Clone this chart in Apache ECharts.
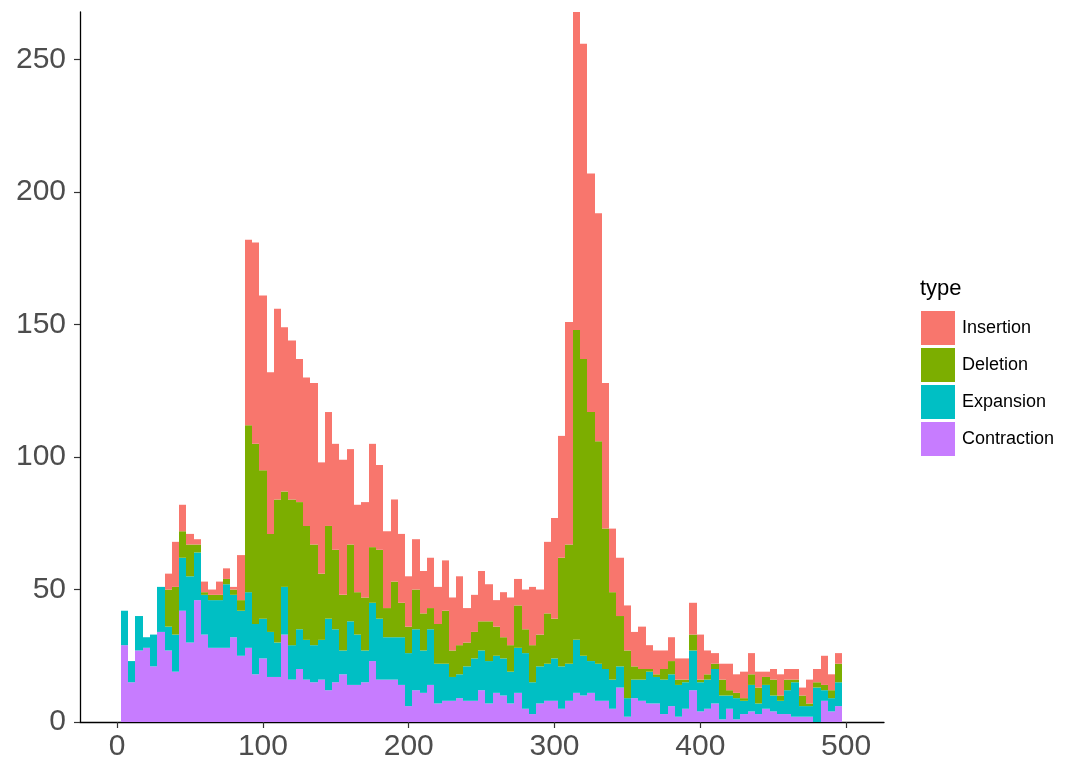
<!DOCTYPE html>
<html>
<head>
<meta charset="utf-8">
<script src="https://cdn.jsdelivr.net/npm/echarts@6/dist/echarts.min.js"></script>
<style>
  html, body { margin: 0; padding: 0; background: #fff; }
  #chart { width: 1080px; height: 771px; }
</style>
</head>
<body>
<div id="chart"></div>
<script>
// bin centres (binwidth 5)
const binWidth = 5
const binCenters = [
  5, 10, 15, 20, 25, 30, 35, 40, 45, 50, 55, 60, 65, 70, 75, 80, 85, 90, 95, 100,
  105, 110, 115, 120, 125, 130, 135, 140, 145, 150, 155, 160, 165, 170, 175, 180, 185, 190, 195, 200,
  205, 210, 215, 220, 225, 230, 235, 240, 245, 250, 255, 260, 265, 270, 275, 280, 285, 290, 295, 300,
  305, 310, 315, 320, 325, 330, 335, 340, 345, 350, 355, 360, 365, 370, 375, 380, 385, 390, 395, 400,
  405, 410, 415, 420, 425, 430, 435, 440, 445, 450, 455, 460, 465, 470, 475, 480, 485, 490, 495
]

// counts per bin, one array per type
const contraction = [
  29, 15, 27, 28, 21, 34, 27, 19, 42, 30, 46, 33, 28, 28, 28, 32, 25, 28, 18, 24,
  17, 17, 33, 16, 20, 16, 15, 16, 12, 15, 18, 14, 14, 15, 23, 16, 16, 16, 14, 6,
  12, 11, 14, 7, 8, 8, 9, 8, 8, 12, 7, 11, 10, 7, 11, 5, 3, 7, 8, 8,
  5, 8, 11, 10, 11, 8, 8, 5, 13, 2, 9, 8, 7, 7, 3, 6, 2, 5, 12, 4,
  5, 7, 1, 5, 1, 3, 4, 3, 5, 4, 3, 3, 2, 2, 2, 0, 8, 4, 6
]
const expansion = [
  13, 8, 13, 4, 12, 17, 9, 14, 20, 25, 18, 15, 18, 18, 24, 16, 17, 21, 19, 15,
  17, 13, 18, 13, 15, 15, 14, 15, 27, 20, 9, 24, 19, 12, 22, 23, 16, 16, 18, 20,
  23, 16, 21, 15, 14, 9, 9, 13, 16, 15, 16, 14, 14, 12, 17, 21, 12, 14, 14, 16,
  16, 14, 20, 15, 12, 14, 12, 11, 8, 7, 7, 8, 12, 10, 13, 12, 12, 10, 15, 11,
  11, 13, 9, 5, 8, 5, 10, 4, 9, 6, 5, 9, 13, 4, 4, 13, 4, 5, 9
]
const deletion = [
  0, 0, 0, 0, 0, 0, 14, 18, 10, 12, 3, 1, 2, 2, 2, 2, 4, 63, 68, 56,
  37, 54, 36, 55, 48, 43, 38, 25, 35, 30, 21, 29, 16, 20, 21, 26, 11, 21, 13, 10,
  15, 14, 8, 15, 20, 10, 11, 9, 10, 11, 15, 11, 8, 10, 16, 9, 14, 12, 19, 15,
  41, 45, 117, 112, 94, 84, 53, 33, 19, 18, 5, 4, 1, 1, 4, 5, 2, 1, 6, 1,
  2, 2, 6, 2, 2, 1, 4, 6, 3, 6, 2, 4, 1, 4, 1, 2, 2, 3, 7
]
const insertion = [
  0, 0, 0, 0, 0, 0, 6, 17, 10, 4, 2, 4, 2, 5, 4, 1, 17, 70, 76, 66,
  61, 72, 62, 60, 54, 56, 61, 42, 43, 40, 51, 36, 33, 36, 39, 32, 29, 31, 26, 19,
  19, 16, 19, 14, 19, 20, 26, 13, 14, 19, 14, 10, 17, 18, 10, 15, 22, 17, 27, 38,
  46, 84, 120, 119, 90, 86, 55, 24, 22, 17, 13, 16, 9, 9, 7, 9, 8, 8, 12, 17,
  9, 4, 6, 10, 7, 10, 8, 6, 2, 4, 8, 4, 4, 3, 9, 5, 11, 6, 4
]

const xTicks = [0, 100, 200, 300, 400, 500]
const yTicks = [0, 50, 100, 150, 200, 250]

const typeNames = ['Insertion', 'Deletion', 'Expansion', 'Contraction']
const typeColors = {
  Insertion: '#F8766D',
  Deletion: '#7CAE00',
  Expansion: '#00BFC4',
  Contraction: '#C77CFF'
}

const chart = echarts.init(document.getElementById('chart'), null, { renderer: 'canvas' })

// stack from the bottom: contraction, expansion, deletion, insertion
const stackOrder = [
  ['Contraction', contraction],
  ['Expansion', expansion],
  ['Deletion', deletion],
  ['Insertion', insertion]
]

// bin edges snapped to whole pixels so neighbouring bins meet without seams
function renderBin(params, api) {
  const x = api.value(0)
  const lo = api.value(1)
  const hi = api.value(2)
  if (hi <= lo) return null
  const left = Math.round(api.coord([x - binWidth / 2, hi])[0])
  const right = Math.round(api.coord([x + binWidth / 2, hi])[0])
  const top = api.coord([x, hi])[1]
  const bottom = api.coord([x, lo])[1]
  return {
    type: 'rect',
    shape: { x: left, y: top, width: right - left, height: bottom - top },
    style: { fill: api.visual('color') }
  }
}

const base = binCenters.map(() => 0)
const series = stackOrder.map(([name, values]) => {
  const data = binCenters.map((x, i) => {
    const lo = base[i]
    base[i] += values[i]
    return [x, lo, base[i]]
  })
  return {
    name: name,
    type: 'custom',
    renderItem: renderBin,
    encode: { x: 0, y: [1, 2] },
    data: data,
    itemStyle: { color: typeColors[name] },
    emphasis: { disabled: true }
  }
})

const axisFont = {
  fontFamily: 'Liberation Sans, Arial, sans-serif',
  fontSize: 30,
  color: '#4D4D4D'
}

chart.setOption({
  animation: false,
  backgroundColor: '#ffffff',
  title: {
    text: 'type',
    left: 920,
    top: 278,
    padding: 0,
    textStyle: {
      fontFamily: 'Liberation Sans, Arial, sans-serif',
      fontSize: 22,
      fontWeight: 'normal',
      color: '#000'
    }
  },
  legend: {
    data: typeNames,
    orient: 'vertical',
    left: 921,
    top: 311,
    padding: 0,
    itemWidth: 34,
    itemHeight: 34,
    itemGap: 3,
    icon: 'rect',
    selectedMode: false,
    textStyle: {
      fontFamily: 'Liberation Sans, Arial, sans-serif',
      fontSize: 18,
      color: '#000',
      padding: [0, 0, 0, 2]
    }
  },
  grid: {
    left: 80,
    top: 12,
    width: 804,
    height: 710,
    containLabel: false
  },
  xAxis: {
    type: 'value',
    min: -25.5,
    max: 526,
    axisLine: { show: true, onZero: false, lineStyle: { color: '#000', width: 1.3 } },
    axisTick: { show: true, length: 6, customValues: xTicks, lineStyle: { color: '#333', width: 1.2 } },
    axisLabel: Object.assign({ margin: 10, customValues: xTicks }, axisFont),
    splitLine: { show: false }
  },
  yAxis: {
    type: 'value',
    min: 0,
    max: 268,
    axisLine: { show: true, onZero: false, lineStyle: { color: '#000', width: 1.3 } },
    axisTick: { show: true, length: 6, customValues: yTicks, lineStyle: { color: '#333', width: 1.2 } },
    axisLabel: Object.assign({ margin: 14, customValues: yTicks }, axisFont),
    splitLine: { show: false }
  },
  series: series
})
</script>
</body>
</html>
